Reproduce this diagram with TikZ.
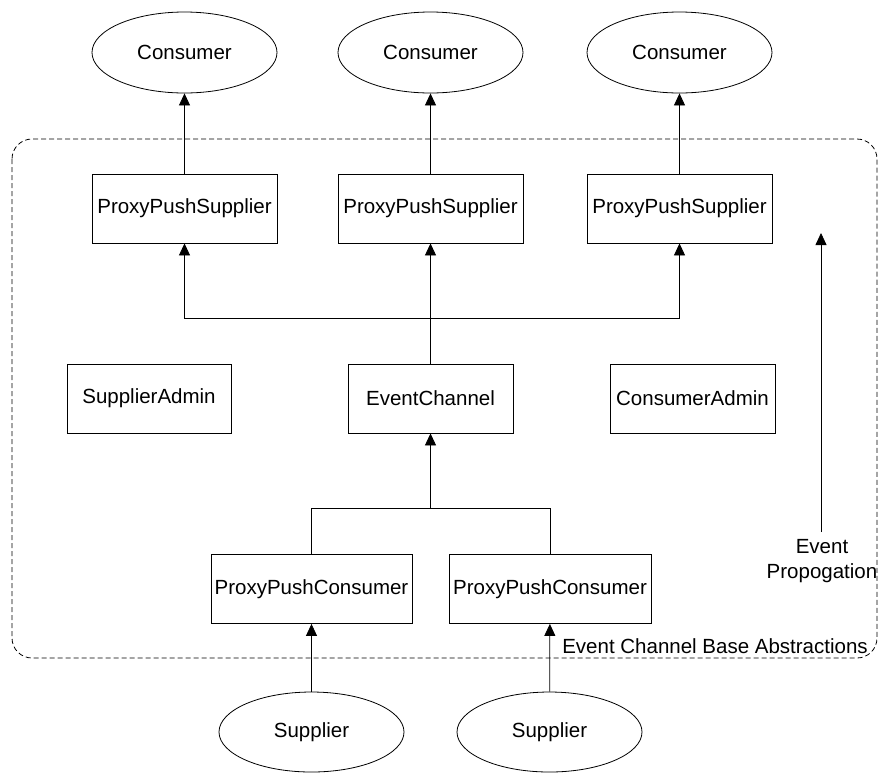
\documentclass[tikz,border=0pt]{standalone}
\usepackage{fontspec}
\setmainfont{Liberation Sans}
\usetikzlibrary{arrows.meta,shapes.geometric}
\begin{document}
\begin{tikzpicture}[x=1pt,y=-1pt,
  every node/.style={font=\fontsize{20.5}{25}\selectfont},
  ell/.style={draw,ellipse,minimum width=185pt,minimum height=81pt,inner sep=0pt,line width=0.8pt},
  boxn/.style={draw,rectangle,minimum height=69pt,inner sep=0pt,line width=0.8pt},
  conn/.style={line width=0.8pt},
  arr/.style={line width=0.8pt,-{Triangle[length=12pt,width=11pt]}},
  frame/.style={line width=0.8pt,dash pattern=on 5pt off 3pt,rounded corners=20pt}]
\useasboundingbox (0,0) rectangle (882,772);
% frame
\draw[frame] (12,139) rectangle (877,658);
% consumers
\node[ell] (c1) at (184.5,52.5) {Consumer};
\node[ell] (c2) at (430.5,52.5) {Consumer};
\node[ell] (c3) at (679.5,52.5) {Consumer};
% proxy push suppliers
\node[boxn,minimum width=185pt] (s1) at (184.5,208.5) {ProxyPushSupplier};
\node[boxn,minimum width=185pt] (s2) at (430.5,208.5) {ProxyPushSupplier};
\node[boxn,minimum width=185pt] (s3) at (679.5,208.5) {ProxyPushSupplier};
% middle row
\node[boxn,minimum width=164pt] (sa) at (149,398.5) {SupplierAdmin};
\node[boxn,minimum width=165pt] (ec) at (430.5,398.5) {EventChannel};
\node[boxn,minimum width=165pt] (ca) at (692.5,398.5) {ConsumerAdmin};
% proxy push consumers
\node[boxn,minimum width=201pt] (p1) at (311.5,589) {ProxyPushConsumer};
\node[boxn,minimum width=202pt] (p2) at (550,589) {ProxyPushConsumer};
% suppliers
\node[ell,minimum height=80pt] (u1) at (311.5,732) {Supplier};
\node[ell,minimum height=80pt] (u2) at (549.5,732) {Supplier};
% arrows to consumers
\draw[arr] (s1) -- (c1);
\draw[arr] (s2) -- (c2);
\draw[arr] (s3) -- (c3);
% upper bus
\coordinate (jt) at (430.5,318);
\draw[conn] (ec.north) -- (jt);
\draw[arr] (jt) -| (s1.south);
\draw[arr] (jt) -- (s2.south);
\draw[arr] (jt) -| (s3.south);
% lower bus
\coordinate (jb) at (430.5,508);
\draw[arr] (jb) -- (ec.south);
\draw[conn] (jb) -| (p1.north);
\draw[conn] (jb) -| (p2.north);
% suppliers to proxies
\draw[arr] (u1) -- (p1);
\draw[arr] (u2) -- (p2);
% event propagation
\node[align=center,inner sep=0pt] (ep) at (822,561) {Event\\Propogation};
\coordinate (eptop) at (821,233);
\draw[arr] (821,532) -- (eptop);
% frame label
\node[inner sep=0pt] (lbl) at (715,646) {Event Channel Base Abstractions};
\end{tikzpicture}
\end{document}
